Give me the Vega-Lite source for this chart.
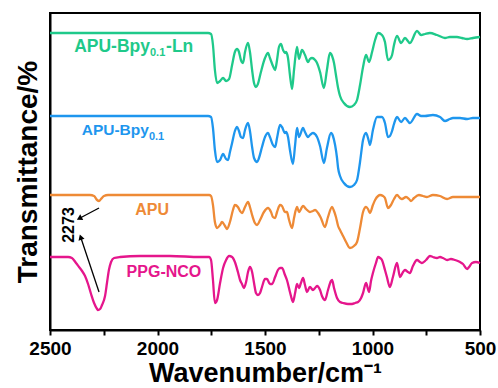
{
"$schema": "https://vega.github.io/schema/vega-lite/v6.json",
"width": 430, "height": 317,
"autosize": {"type": "none"},
"padding": {"left": 50, "top": 13, "right": 18, "bottom": 58},
"background": "white",
"config": {"view": {"stroke": "black", "strokeWidth": 2}, "text": {"font": "Liberation Sans", "fontWeight": "bold"}},
"datasets": {
"spectra": [
{"s":"G","w":2500,"t":297},{"s":"G","w":2267,"t":297},{"s":"G","w":2035,"t":297},{"s":"G","w":1802,"t":297},{"s":"G","w":1765,"t":297},{"s":"G","w":1751,"t":296},{"s":"G","w":1742,"t":285},{"s":"G","w":1733,"t":260},{"s":"G","w":1723,"t":247},{"s":"G","w":1709,"t":249},{"s":"G","w":1695,"t":252},{"s":"G","w":1681,"t":249},{"s":"G","w":1667,"t":251},{"s":"G","w":1653,"t":265},{"s":"G","w":1640,"t":278},{"s":"G","w":1630,"t":281},{"s":"G","w":1621,"t":278},{"s":"G","w":1612,"t":270},{"s":"G","w":1602,"t":267},{"s":"G","w":1593,"t":278},{"s":"G","w":1579,"t":287},{"s":"G","w":1570,"t":278},{"s":"G","w":1560,"t":260},{"s":"G","w":1551,"t":247},{"s":"G","w":1542,"t":243},{"s":"G","w":1533,"t":246},{"s":"G","w":1519,"t":258},{"s":"G","w":1500,"t":272},{"s":"G","w":1486,"t":277},{"s":"G","w":1477,"t":272},{"s":"G","w":1463,"t":264},{"s":"G","w":1453,"t":260},{"s":"G","w":1444,"t":270},{"s":"G","w":1435,"t":283},{"s":"G","w":1426,"t":286},{"s":"G","w":1416,"t":280},{"s":"G","w":1407,"t":277},{"s":"G","w":1402,"t":278},{"s":"G","w":1393,"t":272},{"s":"G","w":1384,"t":255},{"s":"G","w":1374,"t":241},{"s":"G","w":1365,"t":260},{"s":"G","w":1351,"t":283},{"s":"G","w":1342,"t":271},{"s":"G","w":1328,"t":280},{"s":"G","w":1314,"t":275},{"s":"G","w":1300,"t":268},{"s":"G","w":1291,"t":271},{"s":"G","w":1281,"t":272},{"s":"G","w":1267,"t":270},{"s":"G","w":1258,"t":267},{"s":"G","w":1244,"t":258},{"s":"G","w":1226,"t":242},{"s":"G","w":1212,"t":260},{"s":"G","w":1198,"t":277},{"s":"G","w":1188,"t":274},{"s":"G","w":1179,"t":267},{"s":"G","w":1170,"t":255},{"s":"G","w":1160,"t":242},{"s":"G","w":1151,"t":234},{"s":"G","w":1133,"t":227},{"s":"G","w":1105,"t":223},{"s":"G","w":1086,"t":225},{"s":"G","w":1072,"t":230},{"s":"G","w":1058,"t":245},{"s":"G","w":1044,"t":263},{"s":"G","w":1030,"t":275},{"s":"G","w":1016,"t":268},{"s":"G","w":1002,"t":278},{"s":"G","w":988,"t":290},{"s":"G","w":974,"t":297},{"s":"G","w":956,"t":295},{"s":"G","w":942,"t":288},{"s":"G","w":928,"t":270},{"s":"G","w":919,"t":271},{"s":"G","w":909,"t":275},{"s":"G","w":900,"t":285},{"s":"G","w":886,"t":294},{"s":"G","w":867,"t":287},{"s":"G","w":849,"t":292},{"s":"G","w":826,"t":287},{"s":"G","w":793,"t":299},{"s":"G","w":774,"t":295},{"s":"G","w":756,"t":296},{"s":"G","w":733,"t":297},{"s":"G","w":700,"t":295},{"s":"G","w":663,"t":292},{"s":"G","w":640,"t":293},{"s":"G","w":607,"t":293},{"s":"G","w":584,"t":292},{"s":"G","w":560,"t":291},{"s":"G","w":533,"t":292},{"s":"G","w":500,"t":293},
{"s":"B","w":2500,"t":214},{"s":"B","w":2267,"t":214},{"s":"B","w":2035,"t":214},{"s":"B","w":1802,"t":214},{"s":"B","w":1765,"t":214},{"s":"B","w":1751,"t":213},{"s":"B","w":1742,"t":202},{"s":"B","w":1733,"t":180},{"s":"B","w":1723,"t":168},{"s":"B","w":1709,"t":170},{"s":"B","w":1695,"t":176},{"s":"B","w":1681,"t":171},{"s":"B","w":1672,"t":170},{"s":"B","w":1663,"t":178},{"s":"B","w":1653,"t":187},{"s":"B","w":1640,"t":199},{"s":"B","w":1630,"t":203},{"s":"B","w":1621,"t":199},{"s":"B","w":1612,"t":193},{"s":"B","w":1602,"t":192},{"s":"B","w":1593,"t":200},{"s":"B","w":1579,"t":207},{"s":"B","w":1570,"t":199},{"s":"B","w":1560,"t":183},{"s":"B","w":1551,"t":172},{"s":"B","w":1537,"t":168},{"s":"B","w":1528,"t":172},{"s":"B","w":1514,"t":183},{"s":"B","w":1500,"t":193},{"s":"B","w":1486,"t":197},{"s":"B","w":1477,"t":193},{"s":"B","w":1463,"t":185},{"s":"B","w":1453,"t":183},{"s":"B","w":1444,"t":192},{"s":"B","w":1430,"t":205},{"s":"B","w":1421,"t":203},{"s":"B","w":1407,"t":197},{"s":"B","w":1402,"t":198},{"s":"B","w":1393,"t":193},{"s":"B","w":1384,"t":180},{"s":"B","w":1370,"t":166},{"s":"B","w":1360,"t":185},{"s":"B","w":1351,"t":202},{"s":"B","w":1342,"t":193},{"s":"B","w":1323,"t":202},{"s":"B","w":1314,"t":198},{"s":"B","w":1300,"t":193},{"s":"B","w":1291,"t":195},{"s":"B","w":1277,"t":197},{"s":"B","w":1258,"t":193},{"s":"B","w":1244,"t":184},{"s":"B","w":1226,"t":167},{"s":"B","w":1212,"t":182},{"s":"B","w":1193,"t":197},{"s":"B","w":1184,"t":194},{"s":"B","w":1174,"t":185},{"s":"B","w":1165,"t":172},{"s":"B","w":1160,"t":162},{"s":"B","w":1151,"t":154},{"s":"B","w":1133,"t":147},{"s":"B","w":1105,"t":143},{"s":"B","w":1086,"t":145},{"s":"B","w":1072,"t":150},{"s":"B","w":1058,"t":168},{"s":"B","w":1044,"t":190},{"s":"B","w":1030,"t":197},{"s":"B","w":1016,"t":188},{"s":"B","w":1012,"t":185},{"s":"B","w":998,"t":200},{"s":"B","w":979,"t":213},{"s":"B","w":956,"t":213},{"s":"B","w":942,"t":207},{"s":"B","w":928,"t":193},{"s":"B","w":919,"t":194},{"s":"B","w":909,"t":199},{"s":"B","w":900,"t":206},{"s":"B","w":886,"t":213},{"s":"B","w":867,"t":208},{"s":"B","w":849,"t":212},{"s":"B","w":826,"t":207},{"s":"B","w":793,"t":216},{"s":"B","w":774,"t":214},{"s":"B","w":756,"t":214},{"s":"B","w":719,"t":215},{"s":"B","w":686,"t":213},{"s":"B","w":663,"t":209},{"s":"B","w":640,"t":211},{"s":"B","w":626,"t":212},{"s":"B","w":593,"t":212},{"s":"B","w":560,"t":211},{"s":"B","w":533,"t":212},{"s":"B","w":500,"t":212},
{"s":"O","w":2500,"t":135},{"s":"O","w":2314,"t":135},{"s":"O","w":2295,"t":134},{"s":"O","w":2281,"t":130},{"s":"O","w":2272,"t":129},{"s":"O","w":2263,"t":131},{"s":"O","w":2249,"t":134},{"s":"O","w":2230,"t":135},{"s":"O","w":2035,"t":135},{"s":"O","w":1802,"t":135},{"s":"O","w":1760,"t":135},{"s":"O","w":1751,"t":134},{"s":"O","w":1742,"t":125},{"s":"O","w":1733,"t":108},{"s":"O","w":1723,"t":102},{"s":"O","w":1709,"t":105},{"s":"O","w":1700,"t":108},{"s":"O","w":1686,"t":104},{"s":"O","w":1677,"t":101},{"s":"O","w":1663,"t":108},{"s":"O","w":1649,"t":120},{"s":"O","w":1640,"t":125},{"s":"O","w":1626,"t":123},{"s":"O","w":1616,"t":119},{"s":"O","w":1607,"t":117},{"s":"O","w":1593,"t":123},{"s":"O","w":1579,"t":128},{"s":"O","w":1570,"t":123},{"s":"O","w":1560,"t":115},{"s":"O","w":1547,"t":107},{"s":"O","w":1537,"t":105},{"s":"O","w":1523,"t":110},{"s":"O","w":1505,"t":118},{"s":"O","w":1486,"t":122},{"s":"O","w":1472,"t":118},{"s":"O","w":1463,"t":113},{"s":"O","w":1453,"t":112},{"s":"O","w":1444,"t":118},{"s":"O","w":1430,"t":125},{"s":"O","w":1421,"t":124},{"s":"O","w":1407,"t":118},{"s":"O","w":1398,"t":118},{"s":"O","w":1388,"t":110},{"s":"O","w":1374,"t":102},{"s":"O","w":1365,"t":112},{"s":"O","w":1351,"t":123},{"s":"O","w":1342,"t":118},{"s":"O","w":1323,"t":124},{"s":"O","w":1309,"t":121},{"s":"O","w":1291,"t":118},{"s":"O","w":1277,"t":119},{"s":"O","w":1267,"t":120},{"s":"O","w":1253,"t":117},{"s":"O","w":1240,"t":112},{"s":"O","w":1221,"t":103},{"s":"O","w":1207,"t":113},{"s":"O","w":1188,"t":123},{"s":"O","w":1179,"t":119},{"s":"O","w":1170,"t":113},{"s":"O","w":1160,"t":104},{"s":"O","w":1151,"t":100},{"s":"O","w":1137,"t":94},{"s":"O","w":1123,"t":88},{"s":"O","w":1105,"t":82},{"s":"O","w":1086,"t":84},{"s":"O","w":1072,"t":88},{"s":"O","w":1058,"t":102},{"s":"O","w":1044,"t":118},{"s":"O","w":1030,"t":123},{"s":"O","w":1021,"t":121},{"s":"O","w":1012,"t":117},{"s":"O","w":998,"t":125},{"s":"O","w":988,"t":130},{"s":"O","w":974,"t":134},{"s":"O","w":965,"t":135},{"s":"O","w":951,"t":134},{"s":"O","w":942,"t":132},{"s":"O","w":928,"t":122},{"s":"O","w":914,"t":125},{"s":"O","w":900,"t":131},{"s":"O","w":886,"t":135},{"s":"O","w":872,"t":132},{"s":"O","w":863,"t":131},{"s":"O","w":844,"t":133},{"s":"O","w":830,"t":131},{"s":"O","w":821,"t":129},{"s":"O","w":807,"t":132},{"s":"O","w":784,"t":135},{"s":"O","w":765,"t":134},{"s":"O","w":747,"t":133},{"s":"O","w":719,"t":135},{"s":"O","w":686,"t":134},{"s":"O","w":653,"t":131},{"s":"O","w":626,"t":133},{"s":"O","w":593,"t":133},{"s":"O","w":560,"t":133},{"s":"O","w":533,"t":133},{"s":"O","w":500,"t":133},
{"s":"P","w":2500,"t":73},{"s":"P","w":2453,"t":73},{"s":"P","w":2416,"t":73},{"s":"P","w":2398,"t":72},{"s":"P","w":2379,"t":67},{"s":"P","w":2365,"t":63},{"s":"P","w":2351,"t":59},{"s":"P","w":2337,"t":54},{"s":"P","w":2323,"t":46},{"s":"P","w":2309,"t":36},{"s":"P","w":2295,"t":27},{"s":"P","w":2281,"t":21},{"s":"P","w":2277,"t":20},{"s":"P","w":2267,"t":21},{"s":"P","w":2258,"t":25},{"s":"P","w":2244,"t":34},{"s":"P","w":2235,"t":47},{"s":"P","w":2226,"t":60},{"s":"P","w":2216,"t":68},{"s":"P","w":2202,"t":72},{"s":"P","w":2174,"t":73},{"s":"P","w":2081,"t":74},{"s":"P","w":1942,"t":74},{"s":"P","w":1802,"t":73},{"s":"P","w":1760,"t":73},{"s":"P","w":1751,"t":70},{"s":"P","w":1742,"t":50},{"s":"P","w":1733,"t":27},{"s":"P","w":1723,"t":30},{"s":"P","w":1709,"t":47},{"s":"P","w":1695,"t":62},{"s":"P","w":1681,"t":70},{"s":"P","w":1667,"t":74},{"s":"P","w":1653,"t":73},{"s":"P","w":1640,"t":68},{"s":"P","w":1626,"t":58},{"s":"P","w":1616,"t":50},{"s":"P","w":1607,"t":46},{"s":"P","w":1598,"t":42},{"s":"P","w":1588,"t":48},{"s":"P","w":1579,"t":58},{"s":"P","w":1570,"t":63},{"s":"P","w":1560,"t":58},{"s":"P","w":1551,"t":47},{"s":"P","w":1542,"t":37},{"s":"P","w":1533,"t":35},{"s":"P","w":1523,"t":37},{"s":"P","w":1514,"t":43},{"s":"P","w":1500,"t":51},{"s":"P","w":1491,"t":51},{"s":"P","w":1477,"t":46},{"s":"P","w":1467,"t":46},{"s":"P","w":1453,"t":53},{"s":"P","w":1440,"t":60},{"s":"P","w":1430,"t":62},{"s":"P","w":1421,"t":62},{"s":"P","w":1407,"t":55},{"s":"P","w":1398,"t":50},{"s":"P","w":1384,"t":38},{"s":"P","w":1374,"t":30},{"s":"P","w":1370,"t":28},{"s":"P","w":1360,"t":37},{"s":"P","w":1351,"t":46},{"s":"P","w":1342,"t":42},{"s":"P","w":1333,"t":47},{"s":"P","w":1323,"t":52},{"s":"P","w":1314,"t":45},{"s":"P","w":1305,"t":38},{"s":"P","w":1291,"t":43},{"s":"P","w":1277,"t":40},{"s":"P","w":1267,"t":42},{"s":"P","w":1258,"t":44},{"s":"P","w":1244,"t":40},{"s":"P","w":1235,"t":34},{"s":"P","w":1221,"t":30},{"s":"P","w":1207,"t":40},{"s":"P","w":1193,"t":49},{"s":"P","w":1188,"t":50},{"s":"P","w":1179,"t":42},{"s":"P","w":1165,"t":32},{"s":"P","w":1151,"t":28},{"s":"P","w":1137,"t":27},{"s":"P","w":1114,"t":26},{"s":"P","w":1095,"t":26},{"s":"P","w":1081,"t":27},{"s":"P","w":1067,"t":28},{"s":"P","w":1053,"t":32},{"s":"P","w":1044,"t":37},{"s":"P","w":1030,"t":47},{"s":"P","w":1016,"t":38},{"s":"P","w":1007,"t":49},{"s":"P","w":998,"t":57},{"s":"P","w":984,"t":67},{"s":"P","w":974,"t":73},{"s":"P","w":965,"t":72},{"s":"P","w":956,"t":70},{"s":"P","w":942,"t":60},{"s":"P","w":933,"t":53},{"s":"P","w":919,"t":43},{"s":"P","w":905,"t":53},{"s":"P","w":886,"t":67},{"s":"P","w":872,"t":53},{"s":"P","w":858,"t":58},{"s":"P","w":849,"t":60},{"s":"P","w":835,"t":58},{"s":"P","w":826,"t":57},{"s":"P","w":812,"t":64},{"s":"P","w":793,"t":70},{"s":"P","w":779,"t":68},{"s":"P","w":770,"t":67},{"s":"P","w":751,"t":70},{"s":"P","w":733,"t":74},{"s":"P","w":719,"t":73},{"s":"P","w":700,"t":72},{"s":"P","w":686,"t":73},{"s":"P","w":672,"t":72},{"s":"P","w":653,"t":70},{"s":"P","w":635,"t":71},{"s":"P","w":616,"t":70},{"s":"P","w":593,"t":68},{"s":"P","w":579,"t":66},{"s":"P","w":560,"t":61},{"s":"P","w":551,"t":63},{"s":"P","w":537,"t":67},{"s":"P","w":519,"t":68},{"s":"P","w":500,"t":67}
],
"arrows": [
{"id":1,"w":2360,"t":112,"w2":2272,"t2":122},
{"id":2,"w":2356,"t":92,"w2":2272,"t2":38}
]
},
"encoding": {
"x": {"field":"w","type":"quantitative",
 "scale":{"domain":[500,2500],"reverse":true,"nice":false,"zero":false},
 "axis":{"title":"Wavenumber/cm⁻¹","values":[2500,2250,2000,1750,1500,1250,1000,750,500],"format":"d",
  "labelExpr":"datum.value % 500 === 0 ? datum.label : ''","grid":false,
  "domainColor":"black","domainWidth":2,"tickColor":"black","tickWidth":2,"tickSize":5,
  "labelFont":"Liberation Sans","labelFontSize":19,"labelFontWeight":"bold","labelColor":"black","labelPadding":4,
  "labelFlush":false,"labelOverlap":false,
  "titleFont":"Liberation Sans","titleFontSize":27,"titleFontWeight":"bold","titleColor":"black","titlePadding":2}},
"y": {"field":"t","type":"quantitative",
 "scale":{"domain":[0,317],"nice":false,"zero":false},
 "axis":{"title":"Transmittance/%","labels":false,"ticks":false,"grid":false,"domainColor":"black","domainWidth":2,
  "titleFont":"Liberation Sans","titleFontSize":28,"titleFontWeight":"bold","titleColor":"black","titlePadding":8}}
},
"layer": [
{"data":{"name":"spectra"},"mark":{"type":"line","strokeWidth":2.3,"interpolate":"monotone"},
 "encoding":{"color":{"field":"s","type":"nominal","scale":{"domain":["G","B","O","P"],"range":["#1fc98a","#1e96ee","#ee8a36","#e5168c"]},"legend":null}}},
{"data":{"name":"arrows"},"mark":{"type":"rule","color":"black","strokeWidth":1.3},
 "encoding":{"x2":{"field":"w2"},"y2":{"field":"t2"}}},
{"data":{"name":"arrows"},"transform":[{"filter":"datum.id === 1"}],"mark":{"type":"point","shape":"triangle","filled":true,"color":"black","size":40,"angle":242,"opacity":1},"encoding":{}},
{"data":{"name":"arrows"},"transform":[{"filter":"datum.id === 2"}],"mark":{"type":"point","shape":"triangle","filled":true,"color":"black","size":40,"angle":342,"opacity":1},"encoding":{}},
{"data":{"values":[{"w":2035,"t":283,"txt":"APU-Bpy"}]},"mark":{"type":"text","align":"right","baseline":"middle","fontSize":17.5,"color":"#1fc98a"},"encoding":{"text":{"field":"txt"}}},
{"data":{"values":[{"w":2035,"t":277,"txt":"0.1"}]},"mark":{"type":"text","align":"left","baseline":"middle","fontSize":11,"color":"#1fc98a"},"encoding":{"text":{"field":"txt"}}},
{"data":{"values":[{"w":1960,"t":283,"txt":"-Ln"}]},"mark":{"type":"text","align":"left","baseline":"middle","fontSize":17.5,"color":"#1fc98a"},"encoding":{"text":{"field":"txt"}}},
{"data":{"values":[{"w":2040,"t":200,"txt":"APU-Bpy"}]},"mark":{"type":"text","align":"right","baseline":"middle","fontSize":15.5,"color":"#1e96ee"},"encoding":{"text":{"field":"txt"}}},
{"data":{"values":[{"w":2040,"t":193,"txt":"0.1"}]},"mark":{"type":"text","align":"left","baseline":"middle","fontSize":11,"color":"#1e96ee"},"encoding":{"text":{"field":"txt"}}},
{"data":{"values":[{"w":2025,"t":120,"txt":"APU"}]},"mark":{"type":"text","align":"center","baseline":"middle","fontSize":16,"color":"#ee8a36"},"encoding":{"text":{"field":"txt"}}},
{"data":{"values":[{"w":1970,"t":58,"txt":"PPG-NCO"}]},"mark":{"type":"text","align":"center","baseline":"middle","fontSize":16,"color":"#e5168c"},"encoding":{"text":{"field":"txt"}}},
{"data":{"values":[{"w":2412,"t":105,"txt":"2273"}]},"mark":{"type":"text","align":"center","baseline":"middle","fontSize":16,"angle":270,"color":"black"},"encoding":{"text":{"field":"txt"}}}
]
}
